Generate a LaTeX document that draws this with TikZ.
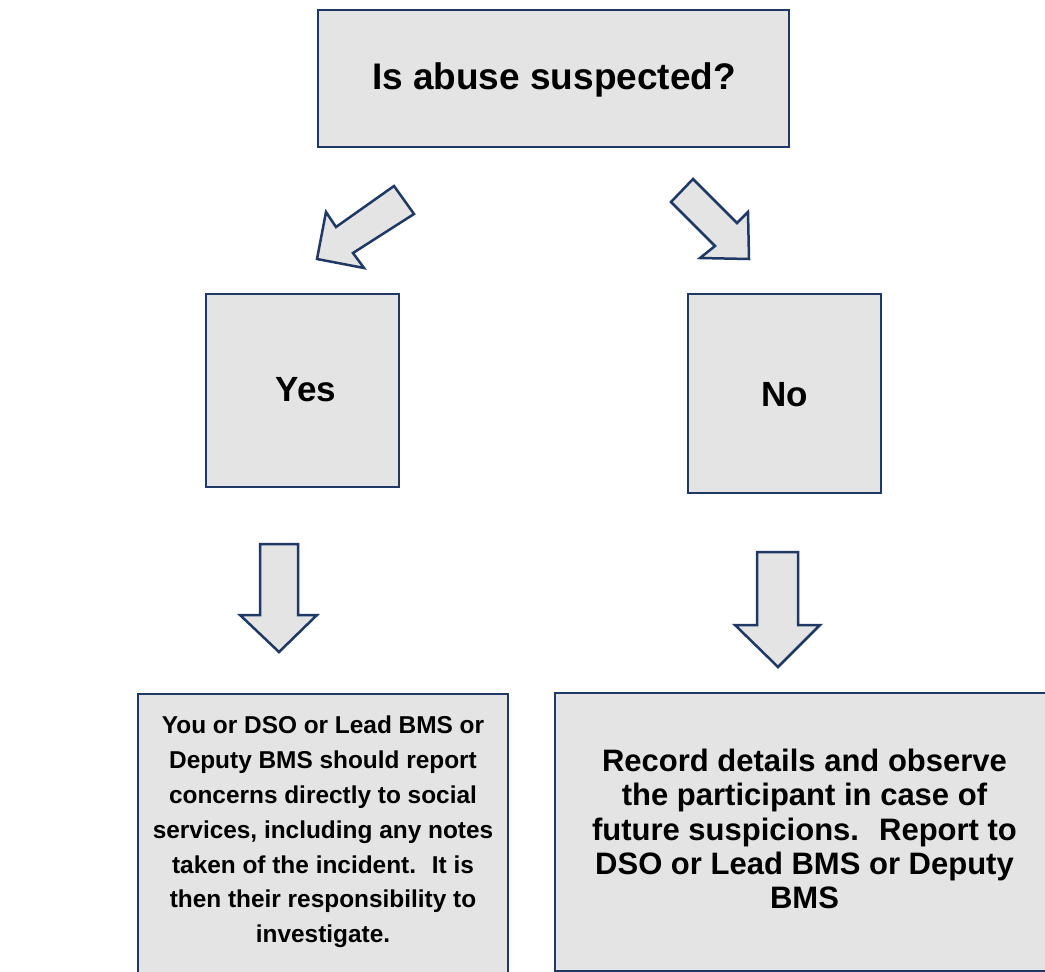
\documentclass[tikz,border=0pt]{standalone}
\usepackage{fontspec}
\setmainfont{Liberation Sans}
\definecolor{boxfill}{RGB}{228,228,228}
\definecolor{navy}{RGB}{31,56,100}
\tikzset{
  panel/.style={draw=navy, fill=boxfill, line width=2.5pt, inner sep=0pt, rectangle},
  blockarrow/.style={draw=navy, fill=boxfill, line width=2.5pt, line join=miter},
  bigtext/.style={font=\bfseries\fontsize{35}{40}\selectfont, inner sep=0pt},
  bodytext/.style={font=\bfseries\fontsize{24.4}{34.8}\selectfont, align=center, inner sep=0pt}
}
\begin{document}
\begin{tikzpicture}[x=1pt,y=-1pt]
\useasboundingbox (0,0) rectangle (1045,972);
% boxes
\node[panel, minimum width=471pt, minimum height=137pt] (top) at (553.5,78.5) {};
\node[bigtext, font=\bfseries\fontsize{37}{42}\selectfont] (toptext) at (554,80) {Is abuse suspected?};
\node[panel, minimum width=193pt, minimum height=193pt] (yes) at (302.5,390.5) {};
\node[bigtext] (yestext) at (306,390) {Yes};
\node[panel, minimum width=193pt, minimum height=199pt] (no) at (784.5,393.5) {};
\node[bigtext] (notext) at (784.5,395) {No};
\node[panel, minimum width=370pt, minimum height=296pt] (yesact) at (323,842) {};
\node[bodytext] (yesacttext) at (323,832) {You or DSO or Lead BMS or\\Deputy BMS should report\\concerns directly to social\\services, including any notes\\taken of the incident.~ It is\\then their responsibility to\\investigate.};
\node[panel, minimum width=506pt, minimum height=278pt] (noact) at (808,832) {};
\node[bodytext, font=\bfseries\fontsize{31}{34.3}\selectfont] (noacttext) at (804.5,829) {Record details and observe\\the participant in case of\\future suspicions.~ Report to\\DSO or Lead BMS or Deputy\\BMS};
% block arrows
\draw[blockarrow] (394,186) -- (414,214) -- (353,253) -- (364,268) -- (317,259) -- (326,212) -- (336,227) -- cycle;
\draw[blockarrow] (693,179) -- (671,202) -- (715,246) -- (700,258) -- (749,259) -- (748,212) -- (737,223) -- cycle;
\draw[blockarrow] (260,544) -- (298,544) -- (298,615) -- (317,615) -- (279,652) -- (240,615) -- (260,615) -- cycle;
\draw[blockarrow] (757,552) -- (798,552) -- (798,625) -- (820,625) -- (778,667) -- (735,625) -- (757,625) -- cycle;
\end{tikzpicture}
\end{document}
